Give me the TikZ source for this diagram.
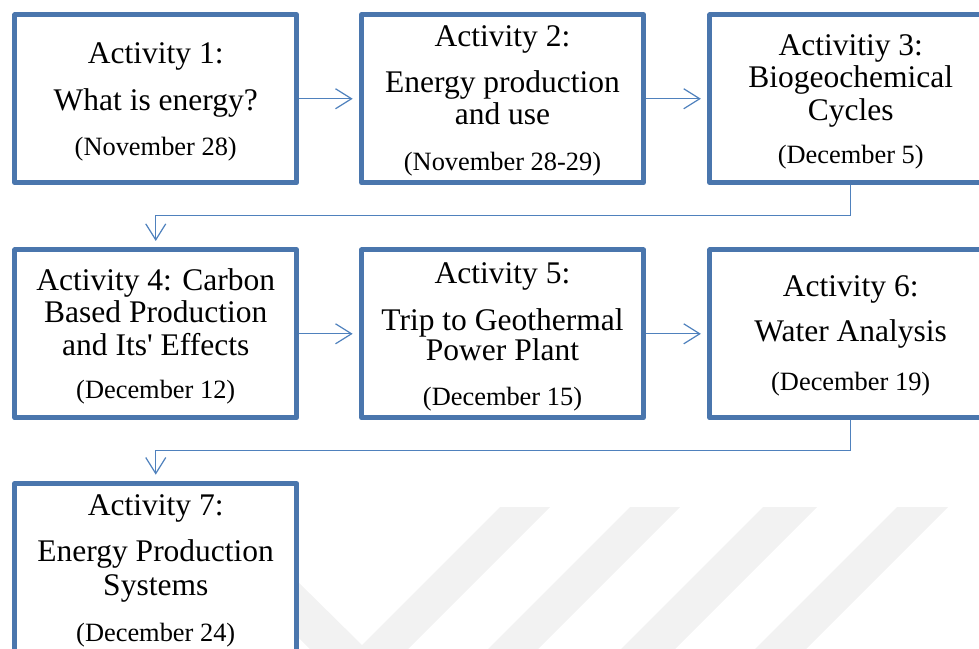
\documentclass[tikz,border=0pt]{standalone}
\usepackage{fontspec}
\setmainfont{Liberation Serif}
\usetikzlibrary{arrows.meta}
\definecolor{boxblue}{RGB}{74,118,173}
\definecolor{lineblue}{RGB}{79,129,189}
\definecolor{wmgray}{RGB}{242,242,242}
\tikzset{
  actbox/.style={draw=boxblue, line width=4.7pt, fill=white, line join=round,
    minimum width=282pt, minimum height=168pt, inner sep=0pt},
  conn/.style={draw=lineblue, line width=1.2pt,
    -{Straight Barb[length=16pt,width=20pt]}, shorten >=6.5pt},
  maintxt/.style={anchor=base, inner sep=0pt, font=\fontsize{31.5}{33}\selectfont},
  datetxt/.style={anchor=base, inner sep=0pt, font=\fontsize{26.4}{28}\selectfont},
  wmark/.style={fill=wmgray, draw=none}
}
\begin{document}
\begin{tikzpicture}[x=1pt,y=-1pt]
\useasboundingbox (0,0) rectangle (979,648);
\clip (0,0) rectangle (979,648);
% watermark
\fill[wmark] (168,507) -- (222,507) -- (362,645) -- (500,507) -- (550,507) -- (359,698) -- cycle;
\fill[wmark] (630,507) -- (680,507) -- (487,700) -- (437,700) -- cycle;
\fill[wmark] (763,507) -- (817,507) -- (624,700) -- (570,700) -- cycle;
\fill[wmark] (897,507) -- (948,507) -- (755,700) -- (704,700) -- cycle;
% boxes
\node[actbox] (b1) at (155.75,98.75) {};
\node[actbox] (b2) at (502.5,98.75) {};
\node[actbox] (b3) at (850.7,98.75) {};
\node[actbox] (b4) at (155.75,333.8) {};
\node[actbox] (b5) at (502.5,333.8) {};
\node[actbox] (b6) at (850.7,333.8) {};
\node[actbox] (b7) at (155.75,567.5) {};
% texts
\node[maintxt] (t1a) at (155.75,63.3) {Activity 1:};
\node[maintxt] (t1b) at (155.75,110) {What is energy?};
\node[datetxt] (t1c) at (155.75,155) {(November 28)};
\node[maintxt] (t2a) at (502.5,46) {Activity 2:};
\node[maintxt] (t2b) at (502.5,92.7) {Energy production};
\node[maintxt] (t2c) at (502.5,124) {and use};
\node[datetxt] (t2d) at (502.5,170) {(November 28-29)};
\node[maintxt] (t3a) at (850.7,55) {Activitiy 3:};
\node[maintxt] (t3b) at (850.7,87.3) {Biogeochemical};
\node[maintxt] (t3c) at (850.7,120) {Cycles};
\node[datetxt] (t3d) at (850.7,163.3) {(December 5)};
\node[maintxt] (t4a) at (155.75,290) {Activity 4: Carbon};
\node[maintxt] (t4b) at (155.75,322.7) {Based Production};
\node[maintxt] (t4c) at (155.75,355) {and Its\textquotesingle{} Effects};
\node[datetxt] (t4d) at (155.75,398.3) {(December 12)};
\node[maintxt] (t5a) at (502.5,283.3) {Activity 5:};
\node[maintxt] (t5b) at (502.5,330.7) {Trip to Geothermal};
\node[maintxt] (t5c) at (502.5,360.7) {Power Plant};
\node[datetxt] (t5d) at (502.5,405) {(December 15)};
\node[maintxt] (t6a) at (850.7,296.7) {Activity 6:};
\node[maintxt] (t6b) at (850.7,341.7) {Water Analysis};
\node[datetxt] (t6c) at (850.7,390.7) {(December 19)};
\node[maintxt] (t7a) at (155.75,515) {Activity 7:};
\node[maintxt] (t7b) at (155.75,561.7) {Energy Production};
\node[maintxt] (t7c) at (155.75,595) {Systems};
\node[datetxt] (t7d) at (155.75,641.7) {(December 24)};
% connectors
\coordinate (e1) at (850.7,215.5);
\coordinate (e2) at (850.7,450.5);
\draw[conn] (b1.east) -- (b2.west);
\draw[conn] (b2.east) -- (b3.west);
\draw[conn] (b3.south) -- (e1) -| (b4.north);
\draw[conn] (b4.east) -- (b5.west);
\draw[conn] (b5.east) -- (b6.west);
\draw[conn] (b6.south) -- (e2) -| (b7.north);
\end{tikzpicture}
\end{document}
